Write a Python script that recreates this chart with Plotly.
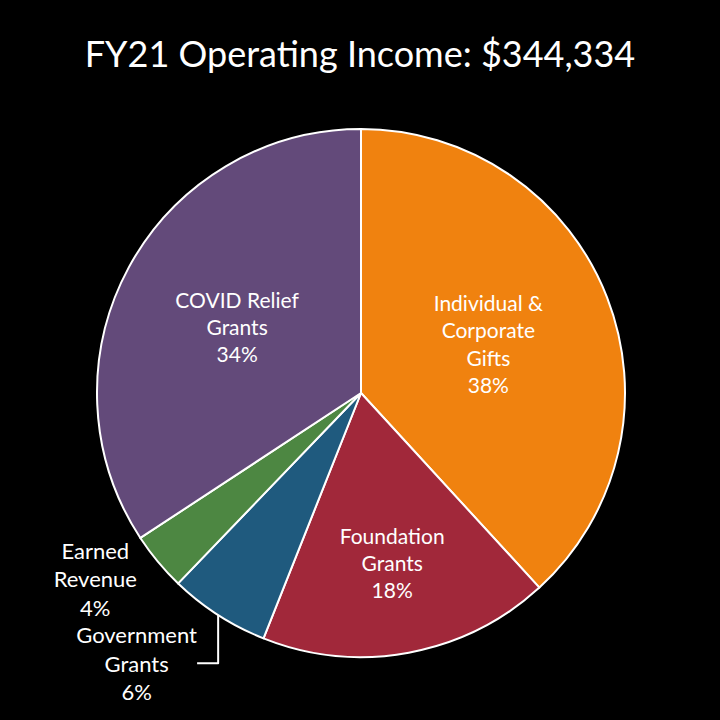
import plotly.graph_objects as go

# income sources, clockwise from 12 o'clock
sources = ["Individual & Corporate Gifts", "Foundation Grants", "Government Grants",
           "Earned Revenue", "COVID Relief Grants"]
slice_text = ["Individual &<br>Corporate<br>Gifts", "Foundation<br>Grants", "Government<br>Grants",
              "Earned<br>Revenue", "COVID Relief<br>Grants"]
amounts = [131500, 61400, 21200, 12300, 117934]
colors = ["#F0820F", "#A1283A", "#1F5A7E", "#4D8742", "#634A7A"]
positions = ["inside", "inside", "outside", "outside", "inside"]

fig = go.Figure()
fig.add_trace(go.Pie(
    labels=sources,
    values=amounts,
    text=slice_text,
    texttemplate="%{text}<br>%{percent:.0%}",
    textposition=positions,
    insidetextorientation="horizontal",
    sort=False,
    direction="clockwise",
    rotation=0,
    marker=dict(colors=colors, line=dict(color="white", width=2)),
    textfont=dict(family="Lato", size=21, color="white"),
    insidetextfont=dict(family="Lato", size=21, color="white"),
    outsidetextfont=dict(family="Lato", size=22, color="white"),
    hoverinfo="label+value+percent",
    showlegend=False,
))

fig.update_layout(
    title=dict(text="FY21 Operating Income: $344,334", x=0.5, xanchor="center",
               y=0.925, yanchor="middle", yref="container",
               font=dict(family="Lato", size=36, color="white")),
    width=720, height=720,
    margin=dict(l=97, r=95, t=129, b=63),
    paper_bgcolor="black",
    plot_bgcolor="black",
    font=dict(family="Lato", color="white"),
)

# page itself black and without the default body margin
fig.write_html("out.html", config={"displayModeBar": False},
               post_script="document.body.style.margin='0';document.body.style.background='black';")
